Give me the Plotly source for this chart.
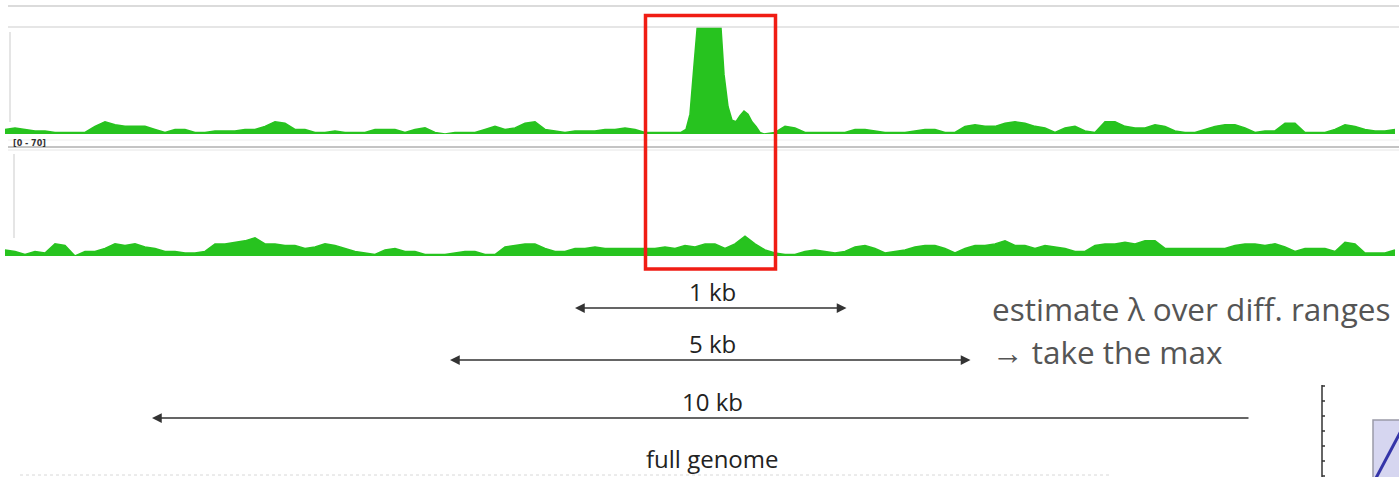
import plotly.graph_objects as go

# ---------------- data ----------------
# genomic positions (arbitrary units along the browser window)
pos1_left = list(range(5, 680, 10))
pos1_peak = [681, 686, 690, 694, 697, 705, 715, 720, 724, 728, 732, 736, 740, 744, 748, 752, 756, 760, 764]
pos1_right = list(range(775, 1400, 10))

cov1_left = [3, 4, 3, 2, 2, 1, 1, 1, 1, 5,
             8, 6, 5, 5, 5, 3, 1, 3, 3, 1,
             1, 2, 2, 2, 3, 3, 5, 8, 7, 3,
             3, 1, 1, 2, 1, 1, 1, 3, 3, 3,
             1, 3, 4, 1, 0, 1, 1, 1, 3, 5,
             3, 4, 7, 8, 3, 2, 1, 2, 2, 2,
             3, 3, 4, 3, 1, 1, 1, 1]
cov1_peak = [1, 3, 13, 45, 75, 130, 130, 75, 39, 18, 9, 8, 12, 15, 13, 8, 5, 1, 0]
cov1_right = [1, 5, 4, 1, 1, 1, 1, 1, 3, 3,
              2, 1, 1, 1, 2, 3, 3, 1, 1, 5,
              6, 5, 5, 7, 8, 7, 5, 4, 1, 4,
              5, 2, 1, 8, 8, 5, 4, 4, 6, 5,
              2, 1, 1, 3, 5, 6, 6, 4, 1, 2,
              2, 7, 7, 1, 1, 1, 3, 6, 5, 3,
              2, 2, 3]

pos2 = list(range(5, 1400, 10))
cov2 = [4, 3, 1, 3, 2, 8, 7, 0, 3, 3,
        5, 8, 7, 8, 6, 5, 3, 3, 2, 2,
        3, 8, 8, 9, 10, 12, 8, 8, 7, 7,
        5, 6, 8, 7, 5, 3, 2, 1, 4, 5,
        3, 3, 1, 1, 1, 2, 3, 3, 1, 1,
        6, 7, 8, 8, 5, 3, 3, 5, 5, 6,
        5, 5, 5, 5, 5, 5, 6, 5, 7, 6,
        8, 8, 5, 8, 13, 8, 4, 2, 1, 1,
        3, 4, 3, 2, 3, 6, 7, 5, 2, 3,
        4, 6, 7, 7, 5, 2, 5, 7, 7, 8,
        10, 7, 7, 5, 7, 6, 5, 3, 3, 7,
        8, 8, 9, 8, 10, 10, 5, 5, 5, 5,
        5, 5, 5, 7, 8, 8, 7, 8, 6, 3,
        5, 5, 5, 3, 9, 8, 2, 2, 2, 4]

data_range_label = "[0 - 70]"
cov_max = 70

window_labels = ["1 kb", "5 kb", "10 kb", "full genome"]
window_left = [575, 450, 152, None]
window_right = [848, 972, 1250, None]
window_both_heads = [True, True, False, False]

note_lines = ["estimate λ over diff. ranges", "→ take the max"]

highlight_region = (644, 777)

# ---------------- figure ----------------
GREEN = "#27c31f"
W, H = 1399, 477

pos1 = pos1_left + pos1_peak + pos1_right
cov1 = cov1_left + cov1_peak + cov1_right

fig = go.Figure()
fig.add_trace(go.Scatter(x=pos1, y=cov1, mode="lines", fill="tozeroy",
                         line=dict(color=GREEN, width=1.5), fillcolor=GREEN,
                         xaxis="x", yaxis="y", hoverinfo="skip", showlegend=False))
fig.add_trace(go.Scatter(x=pos2, y=cov2, mode="lines", fill="tozeroy",
                         line=dict(color=GREEN, width=1.5), fillcolor=GREEN,
                         xaxis="x", yaxis="y2", hoverinfo="skip", showlegend=False))
fig.add_trace(go.Scatter(x=[None], y=[None], xaxis="x", yaxis="y3",
                         hoverinfo="skip", showlegend=False))

def pdom(top_px, bottom_px):
    return [1 - bottom_px / H, 1 - top_px / H]

hidden = dict(visible=False, showgrid=False, zeroline=False, fixedrange=True)
fig.update_layout(
    width=W, height=H,
    margin=dict(l=0, r=0, t=0, b=0),
    paper_bgcolor="white", plot_bgcolor="rgba(0,0,0,0)",
    xaxis=dict(range=[0, W], domain=[0, 1], **hidden),
    yaxis=dict(range=[0, cov_max], domain=pdom(27, 134), anchor="x", **hidden),
    yaxis2=dict(range=[0, cov_max], domain=pdom(150, 256), anchor="x", **hidden),
    yaxis3=dict(range=[H, 0], domain=[0, 1], anchor="x", **hidden),
    font=dict(family="Open Sans, sans-serif"),
)

shapes = []
def hline(y, x0, x1, color, width=1, dash="solid"):
    shapes.append(dict(type="line", xref="x", yref="y3", x0=x0, x1=x1, y0=y, y1=y,
                       line=dict(color=color, width=width, dash=dash), layer="below"))
def vline(x, y0, y1, color, width=1):
    shapes.append(dict(type="line", xref="x", yref="y3", x0=x, x1=x, y0=y0, y1=y1,
                       line=dict(color=color, width=width), layer="below"))

# browser frame lines
hline(6, 8, W, "#cfcfcf", 1.5)
hline(27, 8, W, "#dedede", 1.5)
hline(140, 8, W, "#eeeeee", 1)
hline(147, 8, W, "#c4c4c4", 2)
hline(150, 8, W, "#e6e6e6", 1)
vline(10, 32, 122, "#dddddd", 1.5)
vline(14, 154, 238, "#dddddd", 1.5)
hline(475, 20, 1110, "#d8d8d8", 1, "dot")

# highlight box
shapes.append(dict(type="rect", xref="x", yref="y3", x0=highlight_region[0] + 1.5,
                   x1=highlight_region[1] - 1.5, y0=15.5, y1=269,
                   line=dict(color="#f01d14", width=3.5), layer="above"))

# bottom-right partial plot
shapes.append(dict(type="line", xref="x", yref="y3", x0=1322, x1=1322, y0=385, y1=480,
                   line=dict(color="#333333", width=1.5)))
for ty in [386, 401, 416, 431, 446, 461, 476]:
    shapes.append(dict(type="line", xref="x", yref="y3", x0=1322, x1=1325, y0=ty, y1=ty,
                       line=dict(color="#333333", width=1.5)))
shapes.append(dict(type="rect", xref="x", yref="y3", x0=1373, x1=1405, y0=420, y1=482,
                   fillcolor="#d6d6f0", line=dict(color="#9a9aa8", width=1.5)))
shapes.append(dict(type="line", xref="x", yref="y3", x0=1376, x1=1401, y0=478, y1=431,
                   line=dict(color="#3535a8", width=3)))
fig.update_layout(shapes=shapes)

ann = []
ann.append(dict(xref="x", yref="y3", x=11, y=143, text="<b>" + data_range_label + "</b>",
                showarrow=False, xanchor="left", yanchor="middle",
                font=dict(family="DejaVu Sans", size=8, color="#333333")))

label_y = [291, 343, 401, 458]
arrow_y = [308, 360, 418, None]
for lab, xl, xr, both, ly, ay in zip(window_labels, window_left, window_right,
                                      window_both_heads, label_y, arrow_y):
    ann.append(dict(xref="x", yref="y3", x=712, y=ly, text=lab, showarrow=False,
                    xanchor="center", yanchor="middle", borderpad=0,
                    font=dict(size=24, color="#222222")))
    if xl is not None:
        ann.append(dict(xref="x", yref="y3", axref="x", ayref="y3",
                        x=xl, y=ay, ax=xr, ay=ay, text="", showarrow=True,
                        arrowside="end+start" if both else "end",
                        arrowhead=2, arrowsize=1.5, arrowwidth=1.3,
                        arrowcolor="#333333", standoff=0, startstandoff=0))

for i, (t, y) in enumerate(zip(note_lines, [308, 351])):
    ann.append(dict(xref="x", yref="y3", x=990, y=y, text=t, showarrow=False,
                    xanchor="left", yanchor="middle",
                    font=dict(size=31.5, color="#555555")))
fig.update_layout(annotations=ann)

fig.write_html("out.html")
